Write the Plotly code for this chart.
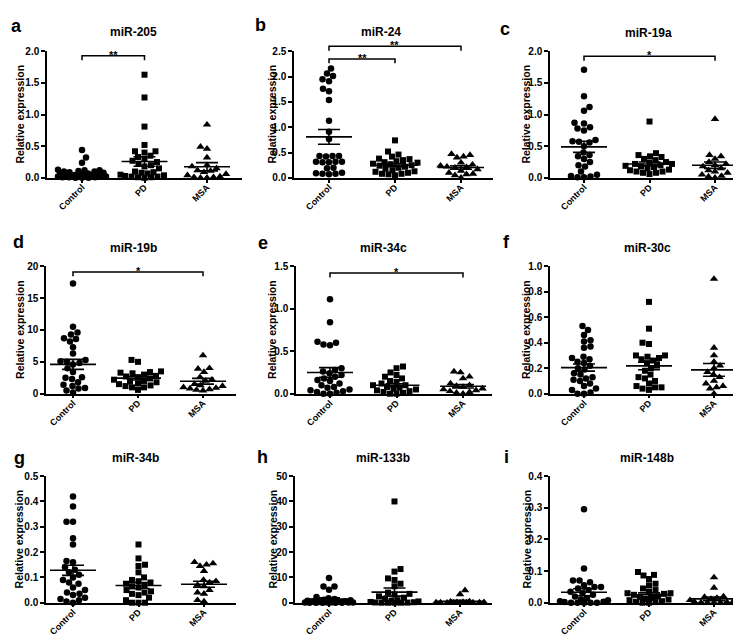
import numpy as np
import plotly.graph_objects as go

W, H = 741, 638
groups = ["Control", "PD", "MSA"]

# ---------------- data ----------------
mir205_control = [0.44, 0.32, 0.24, 0.13, 0.12, 0.12, 0.11, 0.10, 0.10, 0.09, 0.08, 0.07, 0.06, 0.06, 0.05,
                  0.05, 0.04, 0.04, 0.03, 0.03, 0.03, 0.02, 0.02, 0.02, 0.01, 0.01, 0.01, 0.00, 0.00, 0.00]
mir205_pd = [1.63, 1.27, 0.81, 0.52, 0.42, 0.42, 0.40, 0.35, 0.33, 0.30, 0.27, 0.25, 0.22, 0.20, 0.18, 0.15,
             0.10, 0.09, 0.08, 0.07, 0.05, 0.04, 0.03, 0.02, 0.02, 0.01, 0.01, 0.00]
mir205_msa = [0.84, 0.49, 0.46, 0.32, 0.20, 0.18, 0.15, 0.12, 0.11, 0.09, 0.06, 0.04, 0.02, 0.01, 0.01, 0.00, 0.00]
mir205_mean = [0.062, 0.258, 0.176]
mir205_sem = [0.015, 0.075, 0.065]

mir24_control = [2.16, 2.06, 2.01, 1.95, 1.91, 1.76, 1.71, 1.54, 1.13, 0.91, 0.77, 0.43, 0.43, 0.43, 0.42,
                 0.32, 0.32, 0.32, 0.31, 0.31, 0.20, 0.19, 0.10, 0.09, 0.08, 0.08, 0.07]
mir24_pd = [0.74, 0.52, 0.46, 0.42, 0.38, 0.37, 0.35, 0.33, 0.31, 0.30, 0.28, 0.27, 0.25, 0.24, 0.22, 0.20,
            0.18, 0.15, 0.13, 0.12, 0.10, 0.08, 0.08, 0.07, 0.05]
mir24_msa = [0.47, 0.45, 0.42, 0.40, 0.30, 0.26, 0.24, 0.22, 0.21, 0.20, 0.17, 0.14, 0.10, 0.08, 0.07, 0.05, 0.00]
mir24_mean = [0.81, 0.25, 0.205]
mir24_sem = [0.145, 0.03, 0.035]

mir19a_control = [1.71, 1.29, 1.12, 1.06, 0.87, 0.86, 0.80, 0.78, 0.75, 0.60, 0.58, 0.57, 0.56, 0.50, 0.40,
                  0.36, 0.34, 0.30, 0.25, 0.20, 0.18, 0.10, 0.05, 0.03, 0.02, 0.01, 0.01]
mir19a_pd = [0.89, 0.39, 0.36, 0.34, 0.33, 0.30, 0.28, 0.25, 0.24, 0.22, 0.22, 0.20, 0.19, 0.18, 0.17, 0.15,
             0.13, 0.12, 0.10, 0.10, 0.08, 0.08, 0.06]
mir19a_msa = [0.93, 0.36, 0.34, 0.30, 0.25, 0.22, 0.20, 0.18, 0.15, 0.12, 0.10, 0.08, 0.05, 0.03, 0.02, 0.00]
mir19a_mean = [0.49, 0.22, 0.20]
mir19a_sem = [0.088, 0.03, 0.05]

mir19b_control = [17.3, 10.5, 9.6, 9.3, 8.7, 8.6, 8.2, 7.3, 6.3, 5.3, 5.1, 5.0, 4.8, 4.6, 4.0, 3.4, 2.6, 2.5,
                  2.3, 1.8, 1.4, 1.2, 0.9, 0.8, 0.5, 0.2]
mir19b_pd = [5.3, 5.0, 3.5, 3.4, 3.3, 3.2, 3.0, 2.8, 2.7, 2.6, 2.4, 2.2, 2.0, 1.9, 1.8, 1.6, 1.5, 1.3, 1.2,
             1.0, 1.0, 0.6]
mir19b_msa = [6.0, 4.0, 3.9, 3.4, 2.6, 2.2, 2.0, 1.5, 1.3, 1.2, 1.0, 0.9, 0.8, 0.7, 0.6, 0.5]
mir19b_mean = [4.6, 2.45, 1.95]
mir19b_sem = [0.78, 0.3, 0.45]

mir34c_control = [1.11, 0.84, 0.61, 0.60, 0.58, 0.57, 0.30, 0.28, 0.26, 0.24, 0.22, 0.20, 0.18, 0.16, 0.15,
                  0.12, 0.10, 0.08, 0.07, 0.05, 0.04, 0.03, 0.02, 0.01, 0.00, 0.00]
mir34c_pd = [0.32, 0.30, 0.25, 0.22, 0.20, 0.18, 0.15, 0.14, 0.12, 0.10, 0.10, 0.08, 0.07, 0.06, 0.05, 0.04,
             0.03, 0.02, 0.01, 0.00, 0.00]
mir34c_msa = [0.26, 0.25, 0.20, 0.18, 0.12, 0.10, 0.09, 0.08, 0.06, 0.05, 0.04, 0.03, 0.02, 0.01, 0.00]
mir34c_mean = [0.25, 0.10, 0.088]
mir34c_sem = [0.057, 0.017, 0.02]

mir30c_control = [0.53, 0.50, 0.46, 0.42, 0.41, 0.37, 0.36, 0.29, 0.28, 0.27, 0.25, 0.24, 0.22, 0.20, 0.19,
                  0.16, 0.15, 0.13, 0.12, 0.11, 0.10, 0.08, 0.06, 0.04, 0.03, 0.01, 0.00, 0.00]
mir30c_pd = [0.72, 0.51, 0.40, 0.39, 0.30, 0.30, 0.29, 0.28, 0.27, 0.26, 0.24, 0.22, 0.20, 0.18, 0.15, 0.13,
             0.12, 0.10, 0.08, 0.06, 0.05, 0.05, 0.04, 0.03]
mir30c_msa = [0.90, 0.36, 0.30, 0.25, 0.22, 0.20, 0.17, 0.15, 0.13, 0.10, 0.08, 0.06, 0.05, 0.04, 0.00]
mir30c_mean = [0.205, 0.218, 0.187]
mir30c_sem = [0.028, 0.03, 0.05]

mir34b_control = [0.42, 0.38, 0.32, 0.32, 0.255, 0.23, 0.165, 0.16, 0.14, 0.13, 0.12, 0.11, 0.10, 0.09, 0.08,
                  0.075, 0.06, 0.05, 0.04, 0.035, 0.03, 0.02, 0.015, 0.01, 0.005, 0.0]
mir34b_pd = [0.23, 0.175, 0.15, 0.145, 0.12, 0.10, 0.09, 0.085, 0.08, 0.075, 0.07, 0.065, 0.06, 0.05, 0.045,
             0.04, 0.035, 0.03, 0.02, 0.01, 0.0, 0.0, 0.0]
mir34b_msa = [0.16, 0.155, 0.15, 0.145, 0.125, 0.09, 0.085, 0.08, 0.07, 0.065, 0.05, 0.04, 0.035, 0.01, 0.005]
mir34b_mean = [0.128, 0.068, 0.073]
mir34b_sem = [0.02, 0.012, 0.012]

mir133b_control = [9.8, 6.4, 6.4, 5.1, 2.3, 1.8, 1.5, 1.2, 1.0, 0.8, 0.6, 0.5, 0.4, 0.3, 0.2, 0.2, 0.1, 0.1,
                   0.05, 0, 0, 0, 0, 0, 0]
mir133b_pd = [40.0, 13.3, 12.3, 9.6, 9.0, 7.5, 6.5, 4.0, 3.5, 3.2, 2.5, 2.0, 1.5, 1.0, 0.8, 0.5, 0.3, 0.2,
              0.1, 0.05, 0, 0, 0, 0]
mir133b_msa = [4.9, 3.3, 0.5, 0.4, 0.3, 0.2, 0.2, 0.1, 0.1, 0.05, 0.05, 0, 0, 0, 0]
mir133b_mean = [1.4, 4.2, 0.6]
mir133b_sem = [0.5, 1.6, 0.35]

mir148b_control = [0.295, 0.108, 0.07, 0.07, 0.065, 0.055, 0.05, 0.05, 0.045, 0.04, 0.035, 0.03, 0.025, 0.02,
                   0.015, 0.01, 0.008, 0.005, 0.003, 0.002, 0, 0, 0, 0, 0]
mir148b_pd = [0.097, 0.088, 0.086, 0.075, 0.06, 0.055, 0.045, 0.04, 0.035, 0.03, 0.03, 0.028, 0.025, 0.02,
              0.018, 0.015, 0.012, 0.01, 0.008, 0.005, 0.003, 0.002, 0, 0]
mir148b_msa = [0.08, 0.047, 0.02, 0.018, 0.015, 0.012, 0.01, 0.008, 0.005, 0.003, 0.002, 0.001, 0, 0, 0]
mir148b_mean = [0.033, 0.025, 0.012]
mir148b_sem = [0.011, 0.006, 0.006]

# significance brackets: (group_a, group_b, y value, label)
mir205_sig = [(0, 1, 1.93, "**")]
mir24_sig = [(0, 1, 2.35, "**"), (0, 2, 2.60, "**")]
mir19a_sig = [(0, 2, 1.92, "*")]
mir19b_sig = [(0, 2, 19.1, "*")]
mir34c_sig = [(0, 2, 1.42, "*")]

panels = [
    ("a", "miR-205", (mir205_control, mir205_pd, mir205_msa), mir205_mean, mir205_sem, 2.0, 0.5, ".1f", mir205_sig),
    ("b", "miR-24", (mir24_control, mir24_pd, mir24_msa), mir24_mean, mir24_sem, 2.5, 0.5, ".1f", mir24_sig),
    ("c", "miR-19a", (mir19a_control, mir19a_pd, mir19a_msa), mir19a_mean, mir19a_sem, 2.0, 0.5, ".1f", mir19a_sig),
    ("d", "miR-19b", (mir19b_control, mir19b_pd, mir19b_msa), mir19b_mean, mir19b_sem, 20, 5, "d", mir19b_sig),
    ("e", "miR-34c", (mir34c_control, mir34c_pd, mir34c_msa), mir34c_mean, mir34c_sem, 1.5, 0.5, ".1f", mir34c_sig),
    ("f", "miR-30c", (mir30c_control, mir30c_pd, mir30c_msa), mir30c_mean, mir30c_sem, 1.0, 0.2, ".1f", []),
    ("g", "miR-34b", (mir34b_control, mir34b_pd, mir34b_msa), mir34b_mean, mir34b_sem, 0.5, 0.1, ".1f", []),
    ("h", "miR-133b", (mir133b_control, mir133b_pd, mir133b_msa), mir133b_mean, mir133b_sem, 50, 10, "d", []),
    ("i", "miR-148b", (mir148b_control, mir148b_pd, mir148b_msa), mir148b_mean, mir148b_sem, 0.4, 0.1, ".1f", []),
]

# ---------------- geometry (pixels) ----------------
col_geom = [
    (39, 234, 74, 199), (286, 485, 321, 453), (542, 738, 576, 707),
    (38, 228, 65, 195), (288, 484, 322, 455), (542, 738, 576, 706),
    (38, 228, 65, 196), (287, 484, 321, 452), (542, 738, 576, 706),
]
row_geom = [(38, 167), (257, 387), (471, 600)]
letter_pos = [(8, 12), (252, 11), (497, 15), (10, 232), (255, 233), (498, 232), (11, 453), (255, 452), (498, 452)]
title_pos = [(125, 18), (373, 18), (640, 19), (125, 238), (375, 238), (639, 238), (127, 453), (375, 453), (639, 453)]
ytitle_x = [4, 256, 510, 4, 256, 510, 3, 257, 511]

FONT = "Liberation Sans, Arial, sans-serif"
symbols = ["circle", "square", "triangle-up"]
msizes = [6.5, 6.0, 7.5]


def swarm(vals, ppu_y, diam=6.4, maxw=24.0, step=0.5):
    vals = np.asarray(vals, dtype=float)
    order = np.argsort(vals, kind="stable")
    cand = [0.0]
    k = step
    while k <= maxw + 1e-9:
        cand += [k, -k]
        k += step
    placed = []
    offs = np.zeros(len(vals))
    for n, i in enumerate(order):
        y = vals[i] * ppu_y
        sign = 1 if n % 2 == 0 else -1
        best, bestc, bestd = None, 0.0, -1.0
        for c in cand:
            c2 = c * sign
            md = min((np.hypot(c2 - px, y - py) for px, py in placed), default=1e9)
            if md >= diam:
                best = c2
                break
            if md > bestd:
                bestd, bestc = md, c2
        if best is None:
            best = bestc
        offs[i] = best
        placed.append((best, y))
    return offs


fig = go.Figure()
layout = dict(width=W, height=H, margin=dict(l=0, r=0, t=0, b=0), showlegend=False,
              plot_bgcolor="white", paper_bgcolor="white",
              font=dict(family=FONT, color="black"))
shapes, annotations = [], []

for k, (letter, title, data, means, sems, ymax, dtick, fmt, sig) in enumerate(panels):
    x0, x1, c0, c2 = col_geom[k]
    top, bot = row_geom[k // 3]
    b = (c2 - c0) / 2.0
    xr = [(x0 - c0) / b, (x1 - c0) / b]
    ppu_y = (bot - top) / ymax
    xa = "x" if k == 0 else f"x{k + 1}"
    ya = "y" if k == 0 else f"y{k + 1}"

    for g, vals in enumerate(data):
        offs = swarm(vals, ppu_y) / b
        fig.add_trace(go.Scatter(
            x=g + offs, y=vals, mode="markers", xaxis=xa, yaxis=ya, cliponaxis=False,
            marker=dict(symbol=symbols[g], size=msizes[g], color="black", line=dict(width=0)),
            hoverinfo="y"))

    hw = 23.0 / b
    lx, ly = [], []
    for g in range(3):
        lx += [g - hw, g + hw, None]
        ly += [means[g], means[g], None]
    fig.add_trace(go.Scatter(x=lx, y=ly, mode="lines", xaxis=xa, yaxis=ya,
                             line=dict(color="black", width=1.6), hoverinfo="skip"))
    fig.add_trace(go.Scatter(
        x=[0, 1, 2], y=means, mode="markers", xaxis=xa, yaxis=ya, cliponaxis=False,
        marker=dict(size=1, color="rgba(0,0,0,0)"),
        error_y=dict(type="data", array=sems, visible=True, width=11, thickness=1.6, color="black"),
        hoverinfo="skip"))

    layout["xaxis" if k == 0 else f"xaxis{k + 1}"] = dict(
        domain=[x0 / W, x1 / W], range=xr, anchor=ya, tickmode="array", tickvals=[0, 1, 2],
        ticktext=groups, tickangle=-45, ticks="outside", ticklen=3, tickwidth=1.5, tickcolor="black",
        ticklabelstandoff=-4,
        showline=True, linecolor="black", linewidth=1.5, showgrid=False, zeroline=False,
        tickfont=dict(family=FONT, size=9, color="black", weight="bold"), fixedrange=True)
    layout["yaxis" if k == 0 else f"yaxis{k + 1}"] = dict(
        domain=[1 - bot / H, 1 - top / H], range=[0, ymax], anchor=xa, tick0=0, dtick=dtick,
        tickformat=fmt, ticks="outside", ticklen=4, tickwidth=1.5, tickcolor="black",
        showline=True, linecolor="black", linewidth=1.5, showgrid=False, zeroline=False,
        tickfont=dict(family=FONT, size=10, color="black", weight="bold"), fixedrange=True)

    lxp, lyp = letter_pos[k]
    annotations.append(dict(text=letter, x=lxp / W, y=1 - lyp / H, xref="paper", yref="paper",
                            showarrow=False, xanchor="center", yanchor="middle",
                            font=dict(family=FONT, size=18, color="black", weight="bold")))
    tx, ty = title_pos[k]
    annotations.append(dict(text=title, x=tx / W, y=1 - ty / H, xref="paper", yref="paper",
                            showarrow=False, xanchor="center", yanchor="middle",
                            font=dict(family=FONT, size=12, color="black", weight="bold")))
    annotations.append(dict(text="Relative expression", x=ytitle_x[k] / W, y=1 - (top + bot) / 2 / H,
                            xref="paper", yref="paper", showarrow=False, textangle=-90,
                            xanchor="left", yanchor="middle",
                            font=dict(family=FONT, size=10.5, color="black", weight="bold")))

    for ga, gb, yv, lab in sig:
        pxa = c0 + ga * b
        pxb = c0 + gb * b
        pyv = bot - yv * ppu_y
        xa_p, xb_p = pxa / W, pxb / W
        y_p, y_end = 1 - pyv / H, 1 - (pyv + 4.5) / H
        shapes.append(dict(type="path", xref="paper", yref="paper",
                           path=f"M {xa_p},{y_end} L {xa_p},{y_p} L {xb_p},{y_p} L {xb_p},{y_end}",
                           line=dict(color="black", width=1.5)))
        annotations.append(dict(text=lab, x=(xa_p + xb_p) / 2, y=1 - (pyv - 1) / H, xref="paper", yref="paper",
                                showarrow=False, xanchor="center", yanchor="middle",
                                font=dict(family=FONT, size=11, color="black", weight="bold")))

layout["shapes"] = shapes
layout["annotations"] = annotations
fig.update_layout(**layout)
fig.write_html("out.html")
